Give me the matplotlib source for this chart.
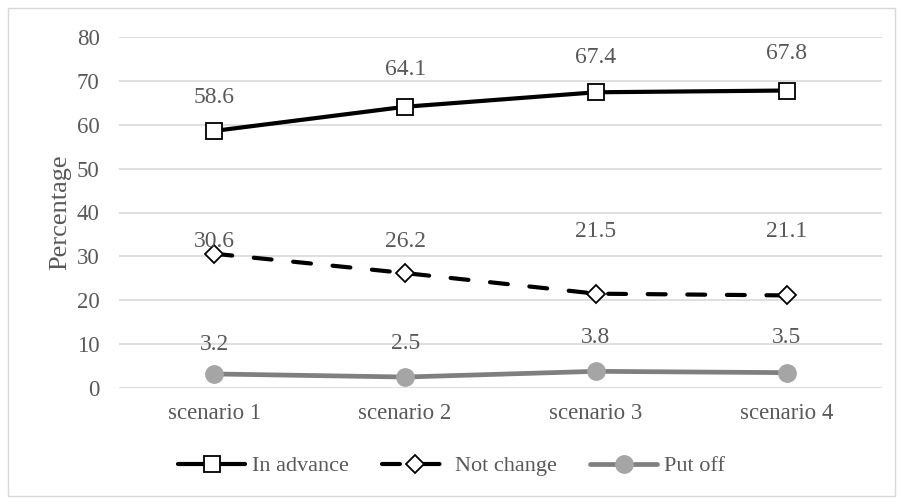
import matplotlib
matplotlib.use("Agg")
import matplotlib.pyplot as plt
from matplotlib.patches import Rectangle

categories = ["scenario 1", "scenario 2", "scenario 3", "scenario 4"]
in_advance = [58.6, 64.1, 67.4, 67.8]
not_change = [30.6, 26.2, 21.5, 21.1]
put_off = [3.2, 2.5, 3.8, 3.5]
yticks = [0, 10, 20, 30, 40, 50, 60, 70, 80]

# label offsets (points above the marker), as placed in the reference
adv_off = [24, 27, 25, 27]
nc_off = [9, 23, 45, 46]
po_off = [21, 24, 24, 25]

plt.rcParams['font.family'] = ['Liberation Serif', 'DejaVu Serif']
txt = '#595959'

fig = plt.figure(figsize=(9.03, 5.04), dpi=100)
fig.patches.append(Rectangle((8/903, 8/504), 887/903, 488/504, transform=fig.transFigure,
                             fill=False, edgecolor='#d9d9d9', linewidth=1.0))
ax = fig.add_axes([119/903, 116/504, 763/903, 351/504])
x = list(range(len(categories)))

l1, = ax.plot(x, in_advance, color='black', lw=3.0, marker='s', markersize=12,
              markerfacecolor='white', markeredgecolor='black', markeredgewidth=1.3,
              solid_capstyle='round', label='In advance', zorder=3)
l2, = ax.plot(x, not_change, color='black', lw=3.0, linestyle=(0, (4.3, 5.2)),
              dash_capstyle='round', marker='D', markersize=9.5,
              markerfacecolor='white', markeredgecolor='black', markeredgewidth=1.3,
              label='Not change', zorder=3)
l3, = ax.plot(x, put_off, color='#7f7f7f', lw=3.4, marker='o', markersize=12.5,
              markerfacecolor='#a5a5a5', markeredgecolor='#a5a5a5',
              solid_capstyle='round', label='Put off', zorder=3)

for vals, offs in [(in_advance, adv_off), (not_change, nc_off), (put_off, po_off)]:
    for xi, v, o in zip(x, vals, offs):
        ax.annotate(f"{v}", (xi, v), xytext=(0, o), textcoords='offset points',
                    ha='center', va='center', fontsize=17, color=txt)

ax.set_xlim(-0.5, 3.5)
ax.set_ylim(0, 80)
ax.set_yticks(yticks)
ax.set_xticks(x)
ax.set_xticklabels(categories)
ax.tick_params(axis='both', length=0, labelsize=16.5, labelcolor=txt)
ax.tick_params(axis='x', pad=11)
ax.tick_params(axis='y', pad=14)
ax.grid(axis='y', color='#d9d9d9', linewidth=1.2)
ax.set_axisbelow(True)
for s in ax.spines.values():
    s.set_visible(False)
ax.set_ylabel('Percentage', fontsize=19, color=txt, labelpad=4)

fig.legend(handles=[l1, l2, l3], loc='center', bbox_to_anchor=(0.5, 38/504),
           ncol=3, frameon=False, fontsize=16, handlelength=3.0, handletextpad=0.3,
           columnspacing=1.5, labelcolor=txt)

fig.savefig('out.png', dpi=100)
